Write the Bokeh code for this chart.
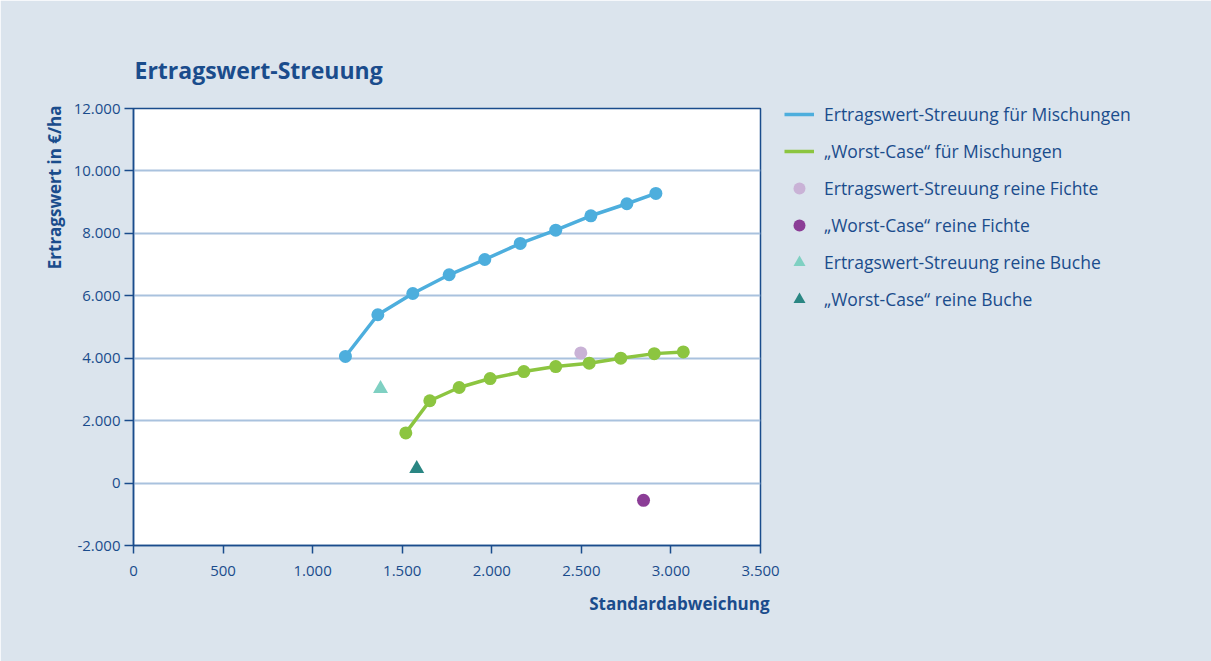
from bokeh.plotting import figure
from bokeh.models import Legend, LegendItem, FixedTicker, Title
from bokeh.embed import file_html
from bokeh.resources import INLINE

# ---- data ----
mix_sd = [1183, 1364, 1559, 1762, 1961, 2159, 2357, 2553, 2754, 2916]
mix_value = [4056, 5392, 6074, 6673, 7163, 7676, 8102, 8563, 8948, 9278]
worst_sd = [1520, 1654, 1818, 1991, 2179, 2357, 2544, 2720, 2907, 3069]
worst_value = [1608, 2638, 3062, 3349, 3572, 3732, 3840, 4000, 4147, 4201]
fichte_sd = [2497]
fichte_value = [4169]
fichte_worst_sd = [2847]
fichte_worst_value = [-552]
buche_sd = [1379]
buche_value = [3021]
buche_worst_sd = [1581]
buche_worst_value = [459]

x_ticks = [0, 500, 1000, 1500, 2000, 2500, 3000, 3500]
x_tick_labels = ["0", "500", "1.000", "1.500", "2.000", "2.500", "3.000", "3.500"]
y_ticks = [-2000, 0, 2000, 4000, 6000, 8000, 10000, 12000]
y_tick_labels = ["-2.000", "0", "2.000", "4.000", "6.000", "8.000", "10.000", "12.000"]

series_labels = [
    "Ertragswert-Streuung für Mischungen",
    "\u201eWorst-Case\u201c für Mischungen",
    "Ertragswert-Streuung reine Fichte",
    "\u201eWorst-Case\u201c reine Fichte",
    "Ertragswert-Streuung reine Buche",
    "\u201eWorst-Case\u201c reine Buche",
]
title_text = "Ertragswert-Streuung"
x_label = "Standardabweichung"
y_label = "Ertragswert in €/ha"

# ---- style ----
FONT = "Open Sans"
TEXT = "#1a4c8c"
BG = "#dbe4ed"
GRID = "#a9c2de"
BLUE = "#4daedd"
GREEN = "#8cc540"
LILAC = "#c9b2d6"
PURPLE = "#8b3d96"
TEAL_L = "#7fd0c2"
TEAL_D = "#2a8683"

p = figure(frame_width=627, frame_height=437, output_backend="svg", toolbar_location=None,
           x_range=(0, 3500), y_range=(-2000, 12000),
           min_border_left=133, min_border_right=0,
           min_border_top=108, min_border_bottom=116)
p.border_fill_color = BG
p.background_fill_color = "white"
p.outline_line_color = TEXT
p.outline_line_width = 1.5

p.title.text = title_text
p.title.align = "left"
p.title.offset = 1
p.title.text_font = FONT
p.title.text_font_size = "23px"
p.title.text_font_style = "bold"
p.title.text_color = TEXT
p.title.standoff = 46

for ax, ticks, labels in ((p.xaxis[0], x_ticks, x_tick_labels), (p.yaxis[0], y_ticks, y_tick_labels)):
    ax.ticker = FixedTicker(ticks=ticks)
    ax.major_label_overrides = {t: l for t, l in zip(ticks, labels)}
    ax.axis_line_color = TEXT
    ax.axis_line_width = 1.5
    ax.major_tick_line_color = TEXT
    ax.major_tick_line_width = 1.5
    ax.major_tick_in = 0
    ax.minor_tick_line_color = None
    ax.major_label_text_color = TEXT
    ax.major_label_text_font = FONT
    ax.major_label_text_font_size = "15px"

p.xaxis.major_tick_out = 8
p.xaxis.major_label_standoff = 12
p.yaxis.major_tick_out = 9
p.yaxis.major_label_standoff = 4

p.xgrid.grid_line_color = None
p.ygrid.grid_line_color = GRID
p.ygrid.grid_line_width = 2

r_mix = p.line(mix_sd, mix_value, line_color=BLUE, line_width=3.5)
p.scatter(mix_sd, mix_value, size=13, fill_color=BLUE, line_color=None)
r_worst = p.line(worst_sd, worst_value, line_color=GREEN, line_width=3.5)
p.scatter(worst_sd, worst_value, size=13, fill_color=GREEN, line_color=None)
r_f = p.scatter(fichte_sd, fichte_value, size=13, fill_color=LILAC, line_color=None)
r_fw = p.scatter(fichte_worst_sd, fichte_worst_value, size=13, fill_color=PURPLE, line_color=None)
r_b = p.scatter(buche_sd, buche_value, marker="triangle", size=15, fill_color=TEAL_L, line_color=None)
r_bw = p.scatter(buche_worst_sd, buche_worst_value, marker="triangle", size=15, fill_color=TEAL_D, line_color=None)

legend = Legend(items=[LegendItem(label=l, renderers=[r]) for l, r in
                       zip(series_labels, [r_mix, r_worst, r_f, r_fw, r_b, r_bw])],
                location=(24, 230))
legend.background_fill_color = None
legend.background_fill_alpha = 0
legend.border_line_color = None
legend.padding = 0
legend.margin = 0
legend.glyph_width = 30
legend.glyph_height = 32
legend.label_height = 32
legend.spacing = 5
legend.label_standoff = 10
legend.label_text_font = FONT
legend.label_text_font_size = "17.5px"
legend.label_text_color = TEXT
p.add_layout(legend, "right")

p.add_layout(Title(text=x_label, align="right", offset=-9, standoff=23,
                   text_font=FONT, text_font_size="17px", text_font_style="bold",
                   text_color=TEXT), "below")
p.add_layout(Title(text=y_label, align="right", offset=-3, standoff=10,
                   text_font=FONT, text_font_size="17px", text_font_style="bold",
                   text_color=TEXT), "left")

open("out.html", "w").write(file_html(p, INLINE))
